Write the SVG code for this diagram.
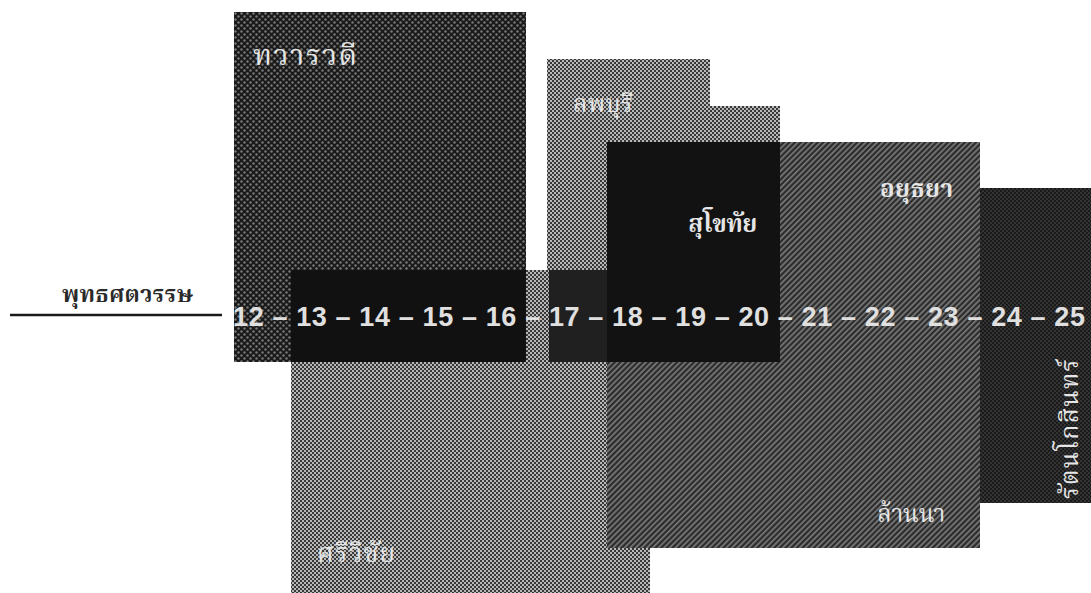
<svg xmlns="http://www.w3.org/2000/svg" width="1091" height="593" viewBox="0 0 1091 593">
<defs>
<pattern id="darkDots" width="6" height="6" patternUnits="userSpaceOnUse">
<rect width="6" height="6" fill="#1a1a1a"/>
<circle cx="1.5" cy="1.5" r="1.2" fill="#7a7a7a"/>
<circle cx="4.5" cy="4.5" r="1.2" fill="#7a7a7a"/>
</pattern>
<pattern id="lightChecker" width="4" height="4" patternUnits="userSpaceOnUse">
<rect width="4" height="4" fill="#b8b8b8"/>
<rect width="2" height="2" fill="#383838"/>
<rect x="2" y="2" width="2" height="2" fill="#383838"/>
</pattern>
<pattern id="hatch" width="4" height="4" patternUnits="userSpaceOnUse" patternTransform="rotate(45)">
<rect width="4" height="4" fill="#2c2c2c"/>
<rect width="1.6" height="4" fill="#7e7e7e"/>
</pattern>
<pattern id="darkFine" width="4" height="4" patternUnits="userSpaceOnUse">
<rect width="4" height="4" fill="#1a1a1a"/>
<circle cx="1" cy="1" r="0.7" fill="#5e5e5e"/>
<circle cx="3" cy="3" r="0.7" fill="#5e5e5e"/>
</pattern>
<style>
.thai{font-family:"Noto Serif Thai","Noto Sans Thai","Loma","Garuda","Noto Sans",serif;fill:#e6e6e6;}
.bold{font-weight:bold;}
.num{font-family:"Liberation Sans",Arial,sans-serif;font-weight:bold;font-size:27px;fill:#e0e0e0;}
.axis{font-family:"Noto Serif Thai","Noto Sans Thai","Loma","Garuda","Noto Sans",serif;font-weight:bold;font-size:23px;fill:#2a2a2a;}
</style>
</defs>
<rect width="1091" height="593" fill="#ffffff"/>
<g id="srivijaya">
<rect x="291" y="270" width="359" height="323" fill="url(#lightChecker)"/>
</g>
<g id="dvaravati">
<rect x="234" y="12" width="292" height="350" fill="url(#darkDots)"/>
</g>
<g id="lopburi">
<path d="M547,59 H710 V106 H780 V362 H547 Z" fill="url(#lightChecker)"/>
</g>
<g id="ayutthaya">
<rect x="607" y="142" width="373" height="220" fill="url(#hatch)"/>
</g>
<g id="lanna">
<rect x="607" y="362" width="373" height="186" fill="url(#hatch)"/>
</g>
<g id="sukhothai">
<rect x="607" y="142" width="173" height="220" fill="#121212"/>
</g>
<g id="rattanakosin">
<rect x="980" y="188" width="111" height="315" fill="url(#darkFine)"/>
</g>
<g id="overlaps">
<rect x="291" y="270" width="235" height="92" fill="#111111"/>
<rect x="549" y="270" width="58" height="92" fill="#202020"/>
</g>
<g id="labels">
<text class="thai" font-size="29" x="253" y="65" textLength="104" lengthAdjust="spacing">ทวารวดี</text>
<text class="thai" font-size="24" x="573" y="112" textLength="60" lengthAdjust="spacing">ลพบุรี</text>
<text class="thai bold" font-size="24" x="688" y="232" textLength="69" lengthAdjust="spacing">สุโขทัย</text>
<text class="thai bold" font-size="24" x="880" y="197" textLength="73" lengthAdjust="spacing">อยุธยา</text>
<text class="thai" font-size="24" x="877" y="522" textLength="68" lengthAdjust="spacing">ล้านนา</text>
<text class="thai" font-size="26" x="317" y="562" textLength="78" lengthAdjust="spacing">ศรีวิชัย</text>
<text class="thai" font-size="25" x="1078" y="499" transform="rotate(-90 1078 499)" textLength="140" lengthAdjust="spacing">รัตนโกสินทร์</text>
</g>
<g id="axis">
<text x="62" y="302" class="axis" textLength="131" lengthAdjust="spacing">พุทธศตวรรษ</text>
<line x1="10" y1="315" x2="222" y2="315" stroke="#1a1a1a" stroke-width="2.5"/>
<text class="num" x="233" y="326" textLength="852" lengthAdjust="spacing">12 – 13 – 14 – 15 – 16 – 17 – 18 – 19 – 20 – 21 – 22 – 23 – 24 – 25</text>
</g>
</svg>
